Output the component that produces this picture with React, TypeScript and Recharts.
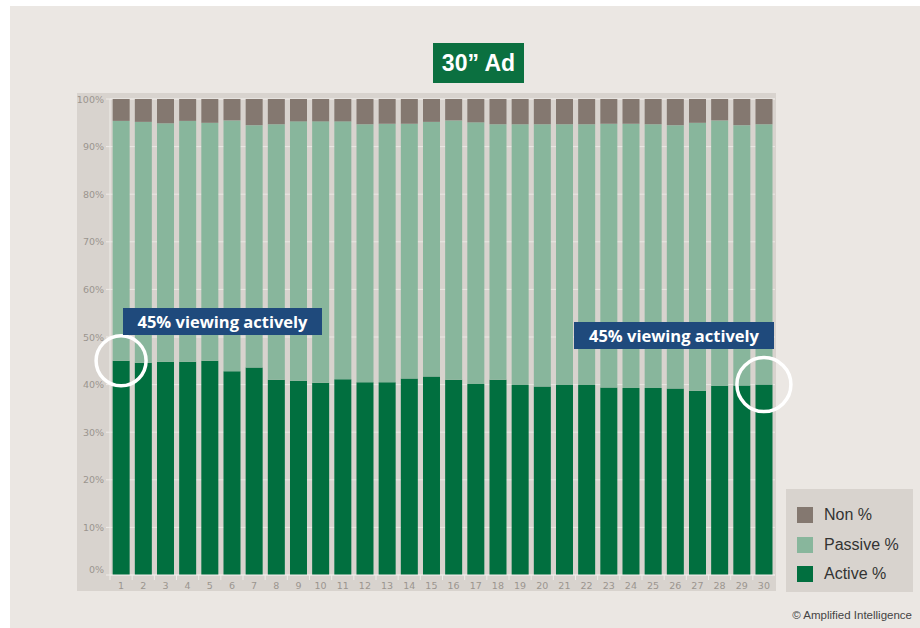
import React from 'react';
import { BarChart, Bar, XAxis, YAxis, CartesianGrid, ReferenceDot } from 'recharts';

// seconds into the ad
const seconds = [
  '1', '2', '3', '4', '5', '6', '7', '8', '9', '10',
  '11', '12', '13', '14', '15', '16', '17', '18', '19', '20',
  '21', '22', '23', '24', '25', '26', '27', '28', '29', '30',
];

const activePct = [
  45.0, 44.6, 44.8, 44.8, 45.0, 42.8, 43.6, 41.0, 40.8, 40.4,
  41.1, 40.5, 40.5, 41.3, 41.7, 41.0, 40.1, 41.0, 39.9, 39.6,
  39.9, 39.9, 39.4, 39.3, 39.3, 39.2, 38.7, 39.7, 39.8, 40.0,
];

const passivePct = [
  50.4, 50.6, 50.1, 50.6, 50.0, 52.7, 50.9, 53.7, 54.5, 54.9,
  54.2, 54.2, 54.3, 53.5, 53.5, 54.5, 55.0, 53.7, 54.8, 55.1,
  54.8, 54.8, 55.4, 55.5, 55.4, 55.3, 56.3, 55.8, 54.7, 54.7,
];

const nonPct = [
  4.6, 4.8, 5.1, 4.6, 5.0, 4.5, 5.5, 5.3, 4.7, 4.7,
  4.7, 5.3, 5.2, 5.2, 4.8, 4.5, 4.9, 5.3, 5.3, 5.3,
  5.3, 5.3, 5.2, 5.2, 5.3, 5.5, 5.0, 4.5, 5.5, 5.3,
];

const yTicks = [0, 10, 20, 30, 40, 50, 60, 70, 80, 90, 100];

// stack order bottom -> top
const series = [
  { key: 'active', name: 'Active %', color: '#016f3f' },
  { key: 'passive', name: 'Passive %', color: '#88b69c' },
  { key: 'non', name: 'Non %', color: '#847870' },
];

const data = seconds.map((s, i) => ({
  second: s,
  active: activePct[i],
  passive: passivePct[i],
  non: nonPct[i],
}));

const PLOT_W = 665;
const HALF_BAND = PLOT_W / seconds.length / 2;
const TICK_FONT = '"DejaVu Sans", sans-serif';

const XTick = ({ x, y, payload }: any) => (
  <g>
    <line x1={x - HALF_BAND} x2={x - HALF_BAND} y1={y - 6} y2={y - 1} stroke="#efece9" />
    <text x={x} y={y} dy={8} textAnchor="middle" fontSize={9.5} fill="#9b958f" fontFamily={TICK_FONT}>
      {payload.value}
    </text>
  </g>
);

const YTick = ({ x, y, payload }: any) => (
  <text
    x={x}
    y={payload.value === 0 ? y - 6 : y}
    dy={3.5}
    textAnchor="end"
    fontSize={9.5}
    fill="#9b958f"
    fontFamily={TICK_FONT}
  >
    {payload.value}%
  </text>
);

const calloutStyle: React.CSSProperties = {
  position: 'absolute',
  height: 27,
  background: '#1f4a7c',
  color: '#fff',
  fontFamily: '"Open Sans", sans-serif',
  fontWeight: 700,
  fontSize: 16.5,
  lineHeight: '27px',
  textAlign: 'center',
};

export default function App() {
  return (
    <div style={{ position: 'absolute', left: 0, top: 0, width: 920, height: 628, background: '#fff', overflow: 'hidden' }}>
      <div style={{ position: 'absolute', left: 10, top: 6, right: 0, bottom: 0, background: '#ebe7e3' }} />
      {/* plot panel */}
      <div style={{ position: 'absolute', left: 77, top: 93, width: 699, height: 498, background: '#d8d3ce' }} />

      <div
        style={{
          position: 'absolute', left: 433, top: 43, width: 91, height: 40, background: '#0b7040',
          color: '#fff', fontFamily: '"Liberation Sans", Arial, sans-serif', fontWeight: 700,
          fontSize: 23, lineHeight: '40px', textAlign: 'center',
        }}
      >
        30” Ad
      </div>

      <div style={{ position: 'absolute', left: 0, top: 0 }}>
        <BarChart
          width={920}
          height={628}
          data={data}
          margin={{ top: 99, right: 145, left: 77, bottom: 37 }}
          barCategoryGap="12%"
        >
          <CartesianGrid vertical={false} stroke="#ebe8e4" strokeWidth={1} />
          <XAxis
            dataKey="second"
            height={16}
            axisLine={{ stroke: '#efece9' }}
            tickLine={false}
            tickSize={4}
            tickMargin={2}
            interval={0}
            tick={<XTick />}
          />
          <YAxis
            width={33}
            domain={[0, 100]}
            ticks={yTicks}
            axisLine={{ stroke: '#efece9' }}
            tickLine={{ stroke: '#efece9' }}
            tickSize={4}
            tickMargin={2}
            tick={<YTick />}
          />
          {series.map((s) => (
            <Bar key={s.key} dataKey={s.key} name={s.name} stackId="view" fill={s.color} isAnimationActive={false} />
          ))}
          <ReferenceDot
            x={seconds[0]}
            y={activePct[0]}
            r={25}
            fill="none"
            stroke="#fff"
            strokeWidth={3.5}
            ifOverflow="visible"
          />
          <ReferenceDot
            x={seconds[seconds.length - 1]}
            y={activePct[activePct.length - 1]}
            r={27}
            fill="none"
            stroke="#fff"
            strokeWidth={3.5}
            ifOverflow="visible"
          />
        </BarChart>
      </div>

      <div style={{ ...calloutStyle, left: 123, top: 308, width: 199 }}>45% viewing actively</div>
      <div style={{ ...calloutStyle, left: 574, top: 322, width: 200 }}>45% viewing actively</div>

      {/* legend, top entry is the top of the stack */}
      <div
        style={{
          position: 'absolute', left: 786, top: 489, width: 127, height: 103, background: '#d8d3ce',
          fontFamily: '"Liberation Sans", Arial, sans-serif', fontSize: 16, color: '#333',
        }}
      >
        {[...series].reverse().map((s, i) => (
          <div key={s.key} style={{ position: 'absolute', left: 11, top: 18 + i * 29.5, display: 'flex', alignItems: 'center' }}>
            <div style={{ width: 16, height: 16, background: s.color, marginRight: 11 }} />
            <span style={{ lineHeight: '16px' }}>{s.name}</span>
          </div>
        ))}
      </div>

      <div
        style={{
          position: 'absolute', right: 8, top: 607, fontFamily: '"Liberation Sans", Arial, sans-serif',
          fontSize: 11.5, color: '#444', lineHeight: '16px',
        }}
      >
        © Amplified Intelligence
      </div>
    </div>
  );
}
